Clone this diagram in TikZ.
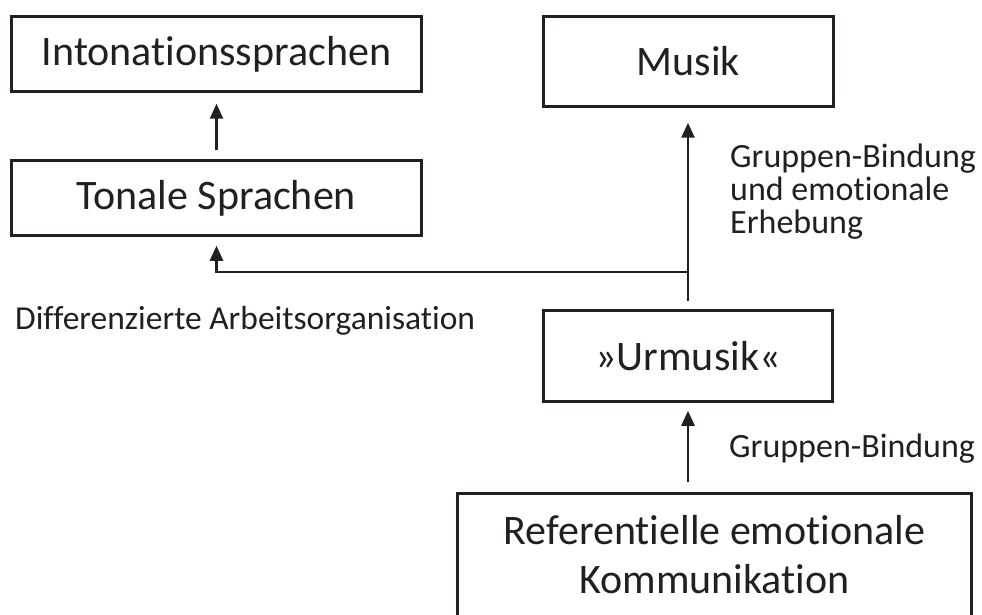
\documentclass[tikz,border=0pt]{standalone}
\usepackage{fontspec}
\setmainfont{Carlito}[Ligatures={NoCommon}]
\usetikzlibrary{arrows.meta}
\definecolor{ink}{HTML}{231F20}
\begin{document}
\begin{tikzpicture}[x=1pt,y=-1pt,
  box/.style={draw=ink, line width=2.5pt, inner sep=0pt, text=ink, font=\fontsize{42}{49}\selectfont},
  lbl/.style={text=ink, font=\fontsize{34}{33}\selectfont, inner sep=0pt, align=left},
  arr/.style={draw=ink, line width=2.5pt, -{Triangle[length=15pt,width=13pt]}},
  ln/.style={draw=ink, line width=2.5pt}]
\useasboundingbox (0,0) rectangle (982,615);
\clip (0,0) rectangle (982,615);
\node[box, minimum width=410pt, minimum height=75pt] (inton) at (216.5,54) {Intonationssprachen};
\node[box, minimum width=410pt, minimum height=75pt] (ton) at (216.5,198) {Tonale Sprachen};
\node[box, minimum width=290pt, minimum height=90pt] (musik) at (688.5,61.5) {Musik};
\node[box, minimum width=289pt, minimum height=91pt] (ur) at (688,356) {»Urmusik«};
\node[box, minimum width=514pt, minimum height=200pt, anchor=north] (ref) at (714.5,492) {};
\node[text=ink, inner sep=0pt, align=center, font=\fontsize{42}{49}\selectfont] (reft) at (714.5,555) {Referentielle emotionale\\Kommunikation};
% connectors
\draw[arr, shorten <=9pt, shorten >=11pt] (ton.north) -- (inton.south);
\draw[arr, shorten <=8pt, shorten >=15pt] (ur.north) -- (ur.north |- musik.south);
\coordinate (j) at (688,272);
\draw[arr, shorten >=9pt] (j) -| (ton.south);
\draw[arr, shorten <=10pt, shorten >=8pt] (ur.south |- ref.north) -- (ur.south);
% labels
\node[lbl, anchor=base west] (l1) at (730,233) {Gruppen-Bindung\\und emotionale\\Erhebung};
\node[lbl, anchor=base west] (l2) at (729,457) {Gruppen-Bindung};
\node[lbl, anchor=base west, font=\fontsize{33.5}{33}\selectfont] (l3) at (15,329) {Differenzierte Arbeitsorganisation};
\end{tikzpicture}
\end{document}
